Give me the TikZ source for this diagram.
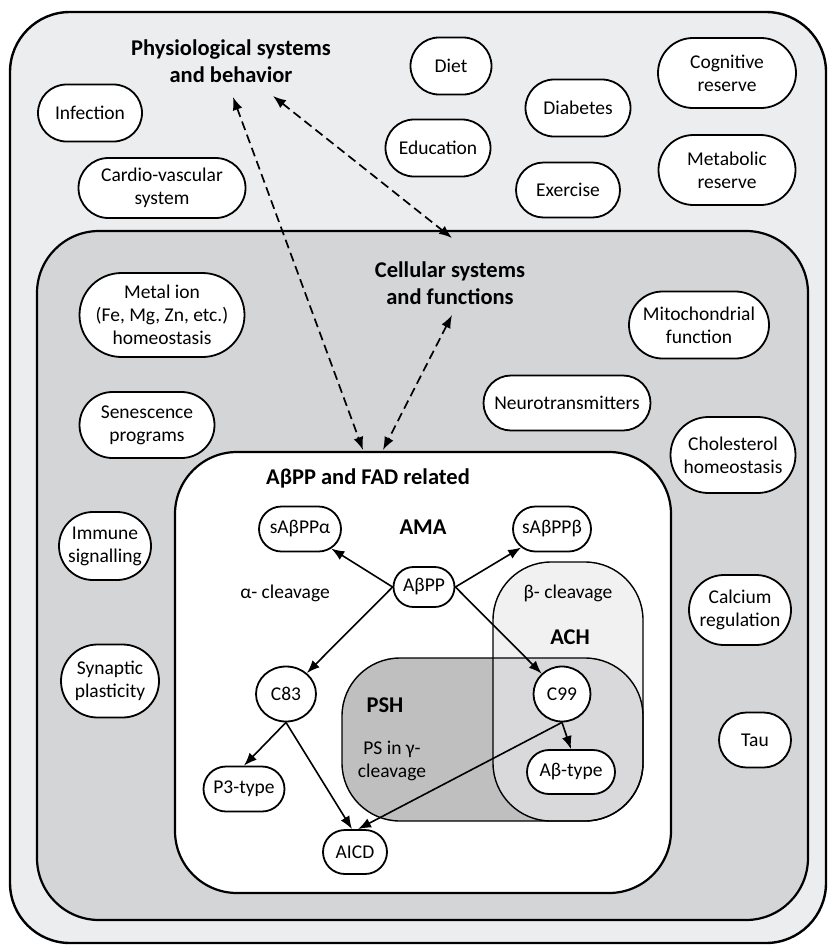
\documentclass[tikz,border=0pt]{standalone}
\usepackage{fontspec}
\setmainfont{Carlito}
\usetikzlibrary{arrows.meta,shapes.geometric,shapes.misc}
\definecolor{physgray}{RGB}{236,237,238}
\definecolor{cellgray}{RGB}{212,213,215}
\definecolor{pshgray}{RGB}{191,191,192}
\definecolor{bothgray}{RGB}{217,217,219}
\definecolor{achgray}{RGB}{241,241,241}

\begin{document}
\begin{tikzpicture}[
    x=1pt, y=-1pt,
    font=\fontsize{19.5}{23}\selectfont,
    pill/.style 2 args={draw, line width=1.8pt, fill=white, rounded rectangle,
                 minimum width=#1, minimum height=#2, align=center, inner sep=1pt},
    blob/.style={draw, line width=1.8pt, fill=white, ellipse,
                 minimum width=60pt, minimum height=55pt, inner sep=1pt},
    ttl/.style={align=center, font=\bfseries\fontsize{22.5}{27}\selectfont},
    lbl/.style={align=center},
    arr/.style={-{Latex[length=13pt, width=10pt]}, line width=1.6pt},
    dasharr/.style={{Latex[length=13pt, width=10pt]}-{Latex[length=13pt, width=10pt]},
                    line width=1.7pt, dash pattern=on 9pt off 5pt}
]
\useasboundingbox (0,0) rectangle (829,945);
% nested regions
\draw[fill=physgray, line width=2.4pt, rounded corners=60pt] (10,12) rectangle (826,943);
\draw[fill=cellgray, line width=2.2pt, rounded corners=62pt] (37,231) rectangle (808,920);
\draw[fill=white, line width=2.2pt, rounded corners=62pt] (175,452) rectangle (671,893);
% PSH / ACH overlap
\fill[pshgray, rounded corners=58pt] (342,658) rectangle (643,821);
\fill[achgray, rounded corners=58pt] (493,562) rectangle (643,821);
\begin{scope}
  \clip[rounded corners=58pt] (342,658) rectangle (643,821);
  \fill[bothgray, rounded corners=58pt] (493,562) rectangle (643,821);
\end{scope}
\draw[line width=1.4pt, rounded corners=58pt] (342,658) rectangle (643,821);
\draw[line width=1.4pt, rounded corners=58pt] (493,562) rectangle (643,821);

% physiological systems
\node[ttl] (phys) at (231,61) {Physiological systems\\and behavior};
\node[pill={106pt}{57pt}] (infection) at (90,113) {Infection};
\node[pill={169pt}{60pt}] (cardio) at (162,188) {Cardio-vascular\\system};
\node[pill={83pt}{57pt}] (diet) at (451,66) {Diet};
\node[pill={107pt}{57pt}] (education) at (438,148) {Education};
\node[pill={107pt}{57pt}] (diabetes) at (578,108) {Diabetes};
\node[pill={106pt}{55pt}] (exercise) at (568,190) {Exercise};
\node[pill={140pt}{70pt}] (cogres) at (727,73) {Cognitive\\reserve};
\node[pill={139pt}{70pt}] (metres) at (727,170) {Metabolic\\reserve};

% cellular systems
\node[ttl] (cell) at (450,283) {Cellular systems\\and functions};
\node[pill={167pt}{84pt}] (metal) at (162,315) {Metal ion\\(Fe, Mg, Zn, etc.)\\homeostasis};
\node[pill={137pt}{66pt}] (senes) at (147,425) {Senescence\\programs};
\node[pill={142pt}{67pt}] (mito) at (699,325) {Mitochondrial\\function};
\node[pill={169pt}{55pt}] (neuro) at (567,403) {Neurotransmitters};
\node[pill={127pt}{76pt}] (chol) at (733,455) {Cholesterol\\homeostasis};
\node[pill={94pt}{68pt}] (immune) at (105,546) {Immune\\signalling};
\node[pill={100pt}{73pt}] (synap) at (110,681) {Synaptic\\plasticity};
\node[pill={104pt}{70pt}] (calcium) at (740,610) {Calcium\\regulation};
\node[pill={74pt}{55pt}] (tau) at (755,740) {Tau};

% APP and FAD related
\node[ttl] (app) at (368,478) {AβPP and FAD related};
\node[ttl] (ama) at (423,527) {AMA};
\node[ttl] (ach) at (570,637) {ACH};
\node[ttl] (psh) at (385,705) {PSH};
\node[lbl] (alphacl) at (285,593) {α- cleavage};
\node[lbl] (betacl) at (568,593) {β- cleavage};
\node[lbl] (gammacl) at (392,761) {PS in γ-\\cleavage};
\node[pill={84pt}{45pt}] (sapa) at (300,529) {sAβPPα};
\node[pill={80pt}{45pt}] (sapb) at (552,529) {sAβPPβ};
\node[pill={63pt}{40pt}] (abpp) at (424,587) {AβPP};
\node[blob] (c83) at (286,694) {C83};
\node[blob, minimum width=57pt] (c99) at (562,694) {C99};
\node[pill={83pt}{45pt}] (p3) at (244,789) {P3-type};
\node[pill={90pt}{44pt}] (abt) at (571,772) {Aβ-type};
\node[pill={66pt}{44pt}] (aicd) at (355,852) {AICD};

\draw[arr] (abpp.west) -- (sapa);
\draw[arr] (abpp.east) -- (sapb);
\draw[arr] (abpp.west) -- (c83);
\draw[arr] (abpp.east) -- (c99);
\draw[arr] (c83.south) -- (p3.north);
\draw[arr] (c83.south) -- ([xshift=-3pt]aicd.north);
\draw[arr] (c99.south) -- ([xshift=3pt]aicd.north);
\draw[arr] (c99.south) -- (abt.north);

% links between levels
\coordinate (physA) at (233,97);
\coordinate (physB) at (273,96);
\coordinate (cellA) at (452,238);
\coordinate (cellB) at (452,315);
\coordinate (appA) at (363,450);
\coordinate (appB) at (383,450);
\draw[dasharr] (physA) -- (appA);
\draw[dasharr] (physB) -- (cellA);
\draw[dasharr] (cellB) -- (appB);
\end{tikzpicture}
\end{document}
